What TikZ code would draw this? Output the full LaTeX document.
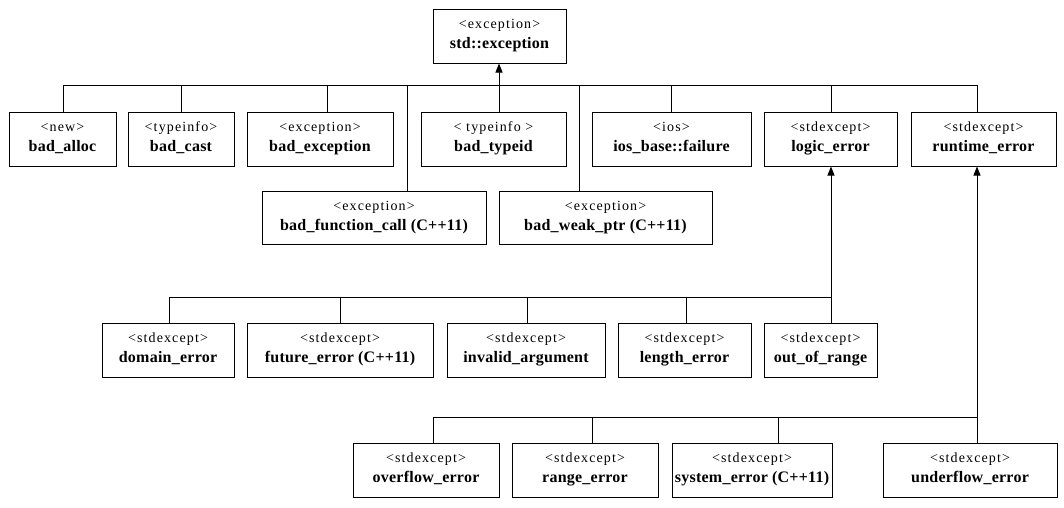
\documentclass[tikz,border=0pt]{standalone}
\usepackage{fontspec}
\setmainfont{Liberation Serif}
\newfontfamily\hdrfont[LetterSpace=8]{Liberation Serif}
\newfontfamily\nmfont[LetterSpace=1.5]{Liberation Serif}
\usetikzlibrary{arrows.meta,fit}
\begin{document}
\begin{tikzpicture}[x=1pt,y=-1pt,
  cls/.style={draw,line width=1pt,inner sep=0pt},
  hdr/.style={anchor=base,inner sep=0pt,font=\hdrfont\fontsize{14}{16}\selectfont},
  ttl/.style={anchor=base,inner sep=0pt,font=\nmfont\bfseries\fontsize{16}{18}\selectfont},
  wire/.style={line width=1pt,line cap=rect},
  inherit/.style={line width=1pt,-{Triangle[width=7pt,length=9pt]}}]
\useasboundingbox[fill=white] (0,0) rectangle (1064,507);
\newcommand\klass[7]{%
  \coordinate (#1-tl) at (#2,#3);
  \coordinate (#1-br) at (#4,#5);
  \node[cls,fit=(#1-tl)(#1-br)] (#1) {};
  \node[hdr] (#1-h) at ([yshift=-20pt]#1.north) {#6};
  \node[ttl] (#1-t) at ([yshift=-40pt]#1.north) {#7};}
% classes
\klass{stdexc}{433}{9}{566}{63}{<exception>}{std::exception}
\klass{badalloc}{9}{112}{116}{166}{<new>}{bad\_alloc}
\klass{badcast}{128}{112}{234}{166}{<typeinfo>}{bad\_cast}
\klass{badexc}{247}{112}{393}{166}{<exception>}{bad\_exception}
\klass{badfunc}{262}{191}{486}{244}{<exception>}{bad\_function\_call (C++11)}
\klass{badtypeid}{421}{112}{566}{166}{< typeinfo >}{bad\_typeid}
\klass{badweak}{499}{191}{712}{244}{<exception>}{bad\_weak\_ptr (C++11)}
\klass{iosfail}{592}{112}{751}{166}{<ios>}{ios\_base::failure}
\klass{logic}{764}{112}{897}{166}{<stdexcept>}{logic\_error}
\klass{runtime}{911}{112}{1056}{166}{<stdexcept>}{runtime\_error}
\klass{domain}{102}{323}{234}{377}{<stdexcept>}{domain\_error}
\klass{future}{247}{323}{433}{377}{<stdexcept>}{future\_error (C++11)}
\klass{invalid}{447}{323}{605}{377}{<stdexcept>}{invalid\_argument}
\klass{length}{618}{323}{751}{377}{<stdexcept>}{length\_error}
\klass{outofrange}{764}{323}{877}{377}{<stdexcept>}{out\_of\_range}
\klass{overflow}{353}{443}{499}{497}{<stdexcept>}{overflow\_error}
\klass{range}{512}{443}{658}{497}{<stdexcept>}{range\_error}
\klass{system}{672}{443}{832}{497}{<stdexcept>}{system\_error (C++11)}
\klass{underflow}{883}{443}{1057}{497}{<stdexcept>}{underflow\_error}
% bus coordinates
\coordinate (a1) at (63,85);  \coordinate (a2) at (181,85);
\coordinate (a3) at (327,85); \coordinate (a4) at (407,85);
\coordinate (a5) at (499,85); \coordinate (a6) at (579,85);
\coordinate (a7) at (671,85); \coordinate (a8) at (831,85);
\coordinate (a9) at (977,85);
\coordinate (c1) at (169,297); \coordinate (c2) at (340,297);
\coordinate (c3) at (527,297); \coordinate (c4) at (686,297);
\coordinate (c5) at (831,297);
\coordinate (d1) at (433,417); \coordinate (d2) at (592,417);
\coordinate (d3) at (778,417); \coordinate (d4) at (977,417);
% top level
\draw[wire] (a1) -- (a9);
\draw[inherit] (a5) -- (stdexc.south -| a5);
\draw[wire] (a1) -- (badalloc.north -| a1);
\draw[wire] (a2) -- (badcast.north -| a2);
\draw[wire] (a3) -- (badexc.north -| a3);
\draw[wire] (a4) -- (badfunc.north -| a4);
\draw[wire] (a5) -- (badtypeid.north -| a5);
\draw[wire] (a6) -- (badweak.north -| a6);
\draw[wire] (a7) -- (iosfail.north -| a7);
\draw[wire] (a8) -- (logic.north -| a8);
\draw[wire] (a9) -- (runtime.north -| a9);
% logic_error family
\draw[wire] (c1) -- (c5);
\draw[inherit] (c5) -- (logic.south -| c5);
\draw[wire] (c1) -- (domain.north -| c1);
\draw[wire] (c2) -- (future.north -| c2);
\draw[wire] (c3) -- (invalid.north -| c3);
\draw[wire] (c4) -- (length.north -| c4);
\draw[wire] (c5) -- (outofrange.north -| c5);
% runtime_error family
\draw[wire] (d1) -- (d4);
\draw[inherit] (d4) -- (runtime.south -| d4);
\draw[wire] (d1) -- (overflow.north -| d1);
\draw[wire] (d2) -- (range.north -| d2);
\draw[wire] (d3) -- (system.north -| d3);
\draw[wire] (d4) -- (underflow.north -| d4);
\end{tikzpicture}
\end{document}
